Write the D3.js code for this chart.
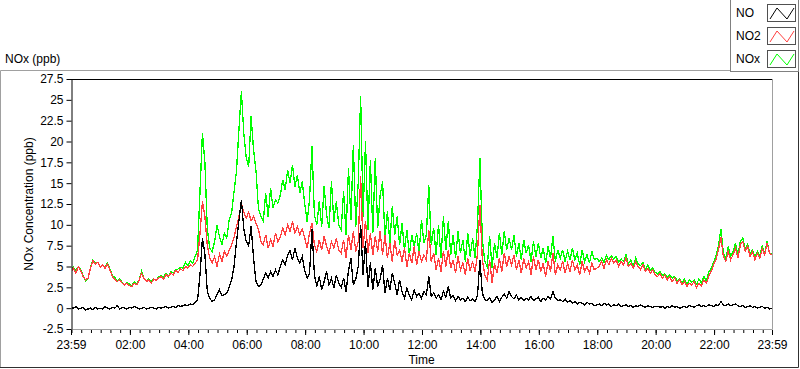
<!DOCTYPE html>
<html>
<head>
<meta charset="utf-8">
<script src="https://cdn.jsdelivr.net/npm/d3@7"></script>
<style>
  body { margin: 0; background: #fff; }
  text { font-family: "Liberation Sans", Arial, sans-serif; font-size: 12px; fill: #000; }
</style>
</head>
<body>
<div id="vis"></div>
<script>
// Frame and plot area
const FRAME_WIDTH = 800;
const FRAME_HEIGHT = 369;
const PLOT = {left: 71, right: 772, top: 79, bottom: 329};

// one reading every 5 minutes, from 23:59 to 23:59 next day
const STEP_MIN = 5;
const SPAN_MIN = 1440;

// NO (ppb)
const NO_VALUES = [
  0.1, 0.0, 0.2, -0.1, 0.0, 0.1, -0.2, -0.1, 0.0, -0.2, 0.1, -0.1, 0.0,
  -0.1, 0.2, 0.0, -0.1, 0.1, 0.0, 0.3, -0.1, 0.1, 0.0, -0.1, 0.1,
  0.0, 0.2, 0.1, -0.1, 0.0, 0.1, -0.1, 0.0, 0.1, 0.0, -0.1, 0.1,
  0.0, 0.1, 0.2, 0.0, 0.1, 0.2, 0.1, 0.3, 0.2, 0.3, 0.4, 0.3,
  0.5, 0.4, 0.7, 1.0,
  4.0, 8.4, 6.5, 2.0, 1.2,
  0.8, 1.0, 1.6, 2.2, 1.5,
  1.6, 1.8, 2.5, 3.4,
  5.0, 8.0, 10.5,
  13.0, 9.5, 8.0, 7.5, 9.8, 6.0, 3.2, 2.6, 2.8,
  3.5, 4.2, 3.6, 4.4, 3.8, 4.6, 4.0,
  5.0, 5.8, 5.2, 6.4, 6.9, 5.8, 7.2, 6.0, 5.4, 6.2,
  4.5, 3.6, 4.2, 9.5, 4.0,
  2.6, 3.8, 2.2, 3.2, 4.4, 2.8, 3.6, 2.4, 4.0, 3.0,
  2.5, 3.6, 2.0, 4.5, 6.0, 2.8, 3.5, 5.0,
  10.0, 4.0, 8.0, 2.5, 5.5, 2.2, 4.8, 2.6, 3.5,
  5.2, 1.8, 3.6, 2.2, 4.2, 3.0, 1.6, 3.4,
  2.0, 1.2, 2.4, 1.5, 1.0, 2.2, 1.4, 1.8, 1.2, 2.0,
  1.6, 3.8, 1.4,
  1.8, 1.2, 1.6, 1.0, 2.0, 1.3, 2.6, 1.2, 1.5, 0.9, 1.4, 1.0, 1.2, 0.8, 1.3, 0.9, 1.1, 0.8,
  1.5, 5.8, 1.8, 1.0,
  0.9, 1.2, 0.7, 1.0, 1.4, 0.8, 1.3, 1.7, 1.2, 2.0,
  1.4, 1.1, 1.6, 1.0, 1.3, 0.9, 1.2, 1.0, 1.4, 0.9, 1.1, 1.3, 0.8, 1.2, 1.0, 1.4, 1.1, 2.0, 1.2, 0.9,
  1.0, 0.8, 1.1, 0.7, 0.9, 0.6, 0.8, 0.5, 0.7, 0.6, 0.4, 0.7, 0.5, 0.6, 0.3, 0.4,
  0.5, 0.3, 0.6, 0.4, 0.5, 0.2, 0.4, 0.3, 0.5, 0.2, 0.3, 0.4, 0.2, 0.3, 0.1, 0.3, 0.2, 0.4, 0.2, 0.1, 0.3, 0.2, 0.1, 0.2,
  0.2, 0.1, 0.2, 0.0, 0.2, 0.1, 0.3, 0.1, 0.2, 0.0, 0.1, 0.2, 0.1, 0.3, 0.2, 0.1, 0.3, 0.4, 0.2, 0.3, 0.2, 0.4,
  0.3, 0.2, 0.4, 0.3, 0.8, 0.4, 0.3, 0.5, 0.3, 0.4, 0.5, 0.3, 0.2, 0.3, 0.1, 0.2, 0.3, 0.1, 0.2, 0.0, 0.1, 0.2, 0.0, 0.1, -0.1, 0.0
];

// NO2 (ppb)
const NO2_VALUES = [
  4.3, 4.8, 4.2, 5.0, 4.5, 3.8, 3.4, 3.6, 4.8, 5.7, 5.3, 5.5, 4.9, 5.2, 4.8, 5.3, 4.6, 3.8, 3.5, 3.2, 3.4, 3.0, 2.8, 3.0, 2.7,
  2.6, 3.0, 2.8, 3.4, 4.2, 3.6, 3.2, 3.4, 3.0, 3.5, 3.3, 3.6,
  3.8, 3.5, 4.0, 3.8, 4.2, 4.0, 4.5, 4.3, 4.7, 4.5, 5.0, 4.8, 5.2, 5.0, 5.4, 5.8,
  9.0, 12.8, 11.0, 7.5, 6.0,
  5.4, 6.2, 5.0, 6.5, 5.6, 6.8, 6.2, 7.0, 7.6,
  8.5, 9.8, 11.0,
  12.6, 11.5, 10.8, 11.5, 10.5, 11.0, 10.2, 9.5, 8.0,
  7.6, 8.8, 7.2, 8.2, 7.4, 9.0, 8.0,
  8.6, 9.6, 8.8, 10.0, 9.2, 10.4, 9.0, 9.8, 8.8, 9.5,
  8.5, 7.2, 9.0, 10.2, 7.6,
  6.8, 8.2, 7.0, 8.6, 7.4, 6.6, 8.0, 7.2, 8.4, 7.0,
  6.6, 8.2, 6.0, 8.8, 7.0, 9.2, 6.8, 8.0,
  15.8, 7.2, 10.5, 6.6, 9.0, 6.4, 8.6, 6.8, 9.2,
  6.4, 8.8, 6.0, 7.8, 5.6, 8.2, 6.4, 7.0,
  5.6, 7.2, 5.0, 6.6, 5.4, 7.4, 5.2, 6.8, 5.6, 6.4,
  5.8, 9.4, 5.6,
  6.6, 4.6, 6.0, 4.4, 6.8, 5.0, 7.0, 4.8, 5.8, 4.2, 6.2, 4.6, 5.4, 4.0, 6.0, 4.5, 5.6, 4.3,
  6.5, 12.4, 5.8, 4.0,
  3.4, 5.8, 3.0, 5.4, 4.2, 6.0, 4.4, 6.6, 5.0, 6.2,
  5.2, 6.4, 4.6, 5.8, 4.2, 6.0, 4.8, 5.6, 4.0, 6.2, 4.6, 5.8, 4.4, 5.4, 3.8, 5.6, 4.4, 6.6, 4.0, 5.2,
  4.6, 5.6, 4.2, 5.4, 4.4, 5.8, 4.6, 5.2, 4.0, 5.6, 4.4, 5.0, 4.2, 5.4, 4.6, 4.8,
  5.0, 5.6, 4.8, 5.8, 5.2, 6.0, 5.4, 5.8, 5.0, 5.6, 5.2, 6.0, 5.0, 5.4, 4.8, 5.6, 5.0, 4.6, 5.2, 4.4, 4.8, 4.2, 4.6, 4.0,
  3.8, 4.2, 3.6, 4.0, 3.4, 3.8, 3.2, 3.6, 3.0, 3.4, 2.8, 3.2, 2.6, 3.0, 2.8, 3.2, 2.5, 3.0, 2.7, 3.4, 3.0, 3.8,
  4.4, 5.2, 5.8, 7.0, 8.5, 6.2, 5.6, 6.8, 5.8, 6.4, 7.2, 6.0, 7.6, 8.0, 6.8, 7.4, 6.2, 6.8, 5.8, 6.6, 6.0, 7.2, 6.4, 7.8, 6.6, 6.4
];

// NOx (ppb)
const NOX_VALUES = [
  4.5, 4.9, 4.5, 5.0, 4.6, 3.9, 3.3, 3.6, 4.9, 5.8, 5.5, 5.5, 5.0, 5.1, 5.0, 5.4, 4.7, 3.9, 3.7, 3.2, 3.5, 3.1, 2.8, 3.1, 2.9,
  2.7, 3.2, 2.9, 3.4, 4.4, 3.6, 3.2, 3.5, 3.2, 3.5, 3.3, 3.8,
  3.9, 3.7, 4.2, 3.8, 4.4, 4.2, 4.6, 4.7, 4.9, 4.8, 5.5, 5.1, 5.7, 5.4, 6.2, 7.0,
  14.0, 21.0, 17.5, 9.5, 7.2,
  6.8, 8.0, 10.0, 8.6, 7.6, 9.0, 8.4, 10.6, 11.5,
  14.0, 16.5, 21.5,
  26.0, 21.0, 18.0, 17.0, 23.0, 19.0, 16.5, 12.0, 11.0,
  10.4, 13.8, 11.0, 14.4, 12.0, 13.0, 12.6,
  13.6, 15.4, 14.2, 16.6, 15.0, 17.2, 14.6, 16.0, 13.8, 15.2,
  12.6, 10.4, 13.0, 19.5, 11.2,
  10.0, 12.8, 9.8, 14.6, 11.2, 9.6, 15.2, 10.4, 12.8, 10.0,
  9.4, 14.0, 8.8, 16.8, 10.6, 19.6, 9.8, 15.0,
  25.4, 11.0, 20.0, 9.4, 17.8, 9.0, 18.0, 9.6, 13.5,
  15.2, 8.4, 11.6, 7.8, 12.2, 8.8, 11.0, 7.6,
  10.2, 7.0, 9.4, 6.4, 8.8, 7.4, 9.0, 6.6, 10.6, 7.8,
  8.8, 14.8, 7.6,
  9.6, 6.4, 10.0, 6.0, 11.0, 7.0, 10.4, 6.4, 8.8, 6.0, 9.2, 6.6, 8.2, 5.6, 9.0, 6.2, 8.4, 6.0,
  10.0, 18.0, 8.2, 5.6,
  5.0, 8.6, 4.8, 7.8, 6.0, 9.0, 6.4, 9.2, 7.0, 8.4,
  7.0, 8.8, 6.2, 7.8, 5.8, 8.2, 6.6, 7.6, 5.6, 8.0, 6.2, 7.8, 6.0, 7.2, 5.4, 7.4, 6.0, 8.6, 5.6, 7.0,
  6.0, 7.0, 5.6, 6.8, 5.8, 7.2, 5.8, 6.6, 5.2, 7.0, 5.6, 6.4, 5.4, 6.8, 5.8, 6.0,
  5.6, 6.0, 5.5, 6.3, 5.8, 6.3, 5.9, 6.2, 5.6, 5.9, 5.6, 6.4, 5.3, 5.8, 5.0, 6.0, 5.3, 5.1, 5.5, 4.6, 5.2, 4.5, 4.8, 4.3,
  4.1, 4.4, 3.9, 4.1, 3.7, 4.0, 3.6, 3.8, 3.3, 3.5, 3.0, 3.5, 2.8, 3.4, 3.1, 3.4, 2.9, 3.5, 3.0, 3.8, 3.3, 4.3,
  4.8, 5.5, 6.3, 7.4, 9.5, 6.7, 5.9, 7.4, 6.2, 6.8, 7.8, 6.4, 8.0, 8.4, 7.0, 7.7, 6.5, 7.0, 6.1, 6.8, 6.2, 7.5, 6.5, 8.0, 6.6, 6.5
];

// legend / series
const SERIES_NAMES = ["NO", "NO2", "NOx"];
const SERIES_COLORS = ["#000000", "#ff4040", "#00ff00"];

// axis ticks (minutes after 23:59)
const X_TICK_MINUTES = [0, 121, 241, 361, 481, 601, 721, 841, 961, 1081, 1201, 1321, 1440];
const X_TICK_LABELS = ["23:59", "02:00", "04:00", "06:00", "08:00", "10:00", "12:00",
                       "14:00", "16:00", "18:00", "20:00", "22:00", "23:59"];
const Y_TICKS = [-2.5, 0, 2.5, 5, 7.5, 10, 12.5, 15, 17.5, 20, 22.5, 25, 27.5];

const FRAME = d3.select("#vis")
                .append("svg")
                  .attr("width", FRAME_WIDTH)
                  .attr("height", FRAME_HEIGHT);

// scales
const X_SCALE = d3.scaleLinear()
                  .domain([0, SPAN_MIN])
                  .range([PLOT.left, PLOT.right]);

const Y_SCALE = d3.scaleLinear()
                  .domain([-2.5, 27.5])
                  .range([PLOT.bottom, PLOT.top]);

// outer panel (sunken look: light top/left, dark bottom/right)
FRAME.append("path")
     .attr("d", "M0.5,368 V70.5 H799")
     .attr("fill", "none").attr("stroke", "#a0a0a0");
FRAME.append("path")
     .attr("d", "M0,367.5 H798.5 V70")
     .attr("fill", "none").attr("stroke", "#303030");

// graph label
FRAME.append("text")
     .attr("x", 5)
     .attr("y", 63)
     .text("NOx (ppb)");

// clip for the plots
FRAME.append("clipPath")
     .attr("id", "plot-clip")
     .append("rect")
       .attr("x", PLOT.left + 1)
       .attr("y", PLOT.top + 1)
       .attr("width", PLOT.right - PLOT.left - 1)
       .attr("height", PLOT.bottom - PLOT.top - 1);

// plot lines, NOx drawn first so NO2 and NO sit on top
const LINE = d3.line()
               .x((d, i) => X_SCALE(i * STEP_MIN))
               .y((d) => Y_SCALE(d));

const PLOT_DATA = [NOX_VALUES, NO2_VALUES, NO_VALUES];
const PLOT_COLORS = [SERIES_COLORS[2], SERIES_COLORS[1], SERIES_COLORS[0]];

FRAME.append("g")
     .attr("clip-path", "url(#plot-clip)")
     .selectAll("path")
     .data(PLOT_DATA)
     .enter()
     .append("path")
       .attr("d", (d) => LINE(d))
       .attr("fill", "none")
       .attr("stroke", (d, i) => PLOT_COLORS[i])
       .attr("stroke-width", 1.3)
       .attr("shape-rendering", "crispEdges");

// plot frame: dark top, light right/bottom
FRAME.append("path")
     .attr("d", "M" + PLOT.left + "," + (PLOT.top + 0.5) + " H" + (PLOT.right + 0.5))
     .attr("stroke", "#000").attr("fill", "none");
FRAME.append("path")
     .attr("d", "M" + (PLOT.right + 0.5) + "," + PLOT.top + " V" + (PLOT.bottom + 0.5) + " H" + PLOT.left)
     .attr("stroke", "#a0a0a0").attr("fill", "none");

// y axis
const Y_AXIS = FRAME.append("g")
     .attr("transform", "translate(" + (PLOT.left + 0.5) + ",0)")
     .call(d3.axisLeft(Y_SCALE)
             .tickValues(Y_TICKS)
             .tickSize(5)
             .tickSizeOuter(0)
             .tickPadding(3)
             .tickFormat((d) => String(d)));
Y_AXIS.selectAll("text").attr("font-size", "12px").attr("font-family", null);
Y_AXIS.select(".domain").attr("stroke", "#000");

// x axis minor ticks, every 20 minutes
const MINOR_TICKS = d3.range(1, SPAN_MIN, 20);
FRAME.append("g")
     .attr("transform", "translate(0," + (PLOT.bottom + 1) + ")")
     .call(d3.axisBottom(X_SCALE)
             .tickValues(MINOR_TICKS)
             .tickSize(3)
             .tickFormat(""))
     .call((g) => g.select(".domain").remove());

// x axis major ticks with labels
const X_AXIS = FRAME.append("g")
     .attr("transform", "translate(0," + (PLOT.bottom + 1) + ")")
     .call(d3.axisBottom(X_SCALE)
             .tickValues(X_TICK_MINUTES)
             .tickSize(5)
             .tickPadding(5)
             .tickFormat((d, i) => X_TICK_LABELS[i]))
     .call((g) => g.select(".domain").remove());
X_AXIS.selectAll("text").attr("font-size", "12px").attr("font-family", null);

// axis titles
FRAME.append("text")
     .attr("x", (PLOT.left + PLOT.right) / 2)
     .attr("y", 364)
     .attr("text-anchor", "middle")
     .text("Time");

FRAME.append("text")
     .attr("transform", "translate(33," + ((PLOT.top + PLOT.bottom) / 2) + ") rotate(-90)")
     .attr("text-anchor", "middle")
     .text("NOx Concentration (ppb)");

// legend box
FRAME.append("rect")
     .attr("x", 730.5)
     .attr("y", -1)
     .attr("width", 68)
     .attr("height", 72.5)
     .attr("fill", "#fff")
     .attr("stroke", "#808080");

const LEGEND_Y = [4, 27, 50];
const LEGEND = FRAME.selectAll("g.legend")
     .data(SERIES_NAMES)
     .enter()
     .append("g")
       .attr("class", "legend")
       .attr("transform", (d, i) => "translate(0," + LEGEND_Y[i] + ")");

LEGEND.append("text")
      .attr("x", 736)
      .attr("y", 13)
      .text((d) => d);

LEGEND.append("rect")
      .attr("x", 767.5)
      .attr("y", 0.5)
      .attr("width", 28)
      .attr("height", 17)
      .attr("fill", "#fff")
      .attr("stroke", "#505050");

LEGEND.append("path")
      .attr("d", "M770,15 L777,4 L787,15 L794,4")
      .attr("fill", "none")
      .attr("stroke", (d, i) => SERIES_COLORS[i]);
</script>
</body>
</html>
